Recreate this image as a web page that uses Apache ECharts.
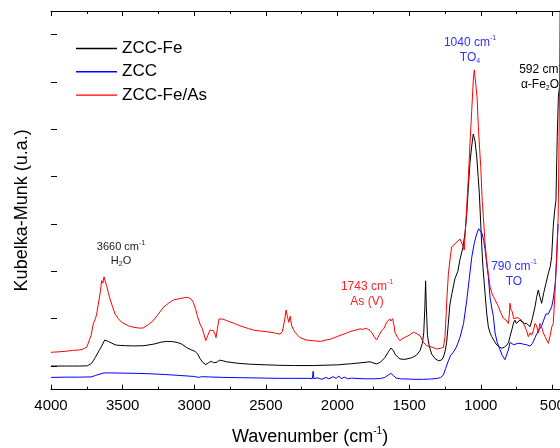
<!DOCTYPE html>
<html>
<head>
<meta charset="utf-8">
<script src="https://cdn.jsdelivr.net/npm/echarts@6/dist/echarts.min.js"></script>
<style>
html,body{margin:0;padding:0;background:#fff;}
#c{width:560px;height:448px;}
</style>
</head>
<body>
<div id="c"></div>
<script>
// [wavenumber (cm-1), Kubelka-Munk (arb.)]
var zccFe = [
[4000,1.00],[3900,1.00],[3800,1.00],[3745,1.01],[3720,1.10],[3705,1.22],[3690,1.37],[3660,1.70],[3646,1.85],[3625,2.10],[3616,2.14],[3600,2.04],[3588,2.00],[3560,1.92],[3541,1.88],[3480,1.86],[3425,1.85],[3350,1.86],[3280,1.93],[3230,2.01],[3192,2.04],[3150,2.03],[3120,2.00],[3088,1.93],[3053,1.78],[3020,1.68],[2995,1.62],[2975,1.50],[2960,1.32],[2940,1.15],[2920,1.06],[2900,1.14],[2881,1.20],[2865,1.14],[2853,1.08],[2840,1.16],[2826,1.25],[2800,1.22],[2774,1.18],[2700,1.12],[2620,1.08],[2541,1.06],[2402,1.03],[2300,1.02],[2169,1.02],[2000,1.05],[1900,1.10],[1800,1.16],[1773,1.18],[1745,1.12],[1727,1.09],[1700,1.16],[1670,1.35],[1645,1.60],[1627,1.76],[1610,1.66],[1599,1.51],[1580,1.38],[1564,1.30],[1530,1.28],[1482,1.35],[1450,1.45],[1424,1.65],[1408,1.95],[1398,2.40],[1390,3.50],[1385,4.60],[1380,3.50],[1372,2.30],[1360,1.85],[1343,1.51],[1320,1.32],[1296,1.22],[1275,1.25],[1261,1.37],[1250,1.60],[1238,2.00],[1225,2.90],[1215,3.62],[1200,4.10],[1180,4.70],[1160,5.00],[1145,5.50],[1125,6.00],[1110,6.60],[1098,7.40],[1087,8.50],[1075,9.60],[1063,10.30],[1052,10.80],[1040,10.50],[1028,9.84],[1018,9.00],[1010,8.30],[994,6.20],[985,5.20],[970,4.07],[958,3.20],[947,2.66],[935,2.40],[923,2.24],[905,2.05],[888,1.89],[870,1.80],[853,1.75],[835,1.80],[818,1.88],[806,2.00],[796,2.24],[780,2.60],[770,2.85],[761,2.94],[752,2.80],[740,2.85],[726,2.94],[710,2.85],[695,2.80],[680,2.80],[668,2.75],[656,2.66],[640,3.00],[621,3.51],[610,3.90],[598,4.21],[588,3.95],[575,3.65],[560,4.10],[545,4.49],[528,4.92],[515,5.20],[505,5.62],[494,6.89],[485,7.50],[475,8.01],[466,10.69],[458,12.40],[452,12.45],[446,13.00]
];
var zcc = [
[4000,0.52],[3900,0.53],[3800,0.53],[3720,0.54],[3690,0.60],[3658,0.66],[3630,0.71],[3600,0.71],[3500,0.70],[3400,0.69],[3300,0.67],[3200,0.64],[3100,0.60],[3000,0.56],[2970,0.52],[2960,0.48],[2950,0.55],[2900,0.54],[2800,0.52],[2700,0.51],[2600,0.50],[2500,0.49],[2402,0.48],[2300,0.48],[2200,0.48],[2175,0.47],[2170,0.78],[2165,0.47],[2140,0.50],[2110,0.44],[2080,0.52],[2060,0.46],[2030,0.55],[2010,0.48],[1990,0.58],[1975,0.47],[1950,0.53],[1930,0.46],[1900,0.49],[1850,0.47],[1800,0.46],[1750,0.46],[1700,0.47],[1670,0.52],[1645,0.62],[1627,0.69],[1610,0.60],[1590,0.49],[1560,0.46],[1500,0.45],[1471,0.44],[1400,0.44],[1351,0.45],[1300,0.48],[1280,0.52],[1261,0.62],[1245,0.90],[1226,1.22],[1210,1.45],[1192,1.58],[1170,1.80],[1145,2.21],[1120,2.80],[1098,3.76],[1080,4.70],[1063,5.59],[1045,6.20],[1028,6.58],[1015,6.80],[1005,6.86],[990,6.60],[980,6.30],[970,5.95],[958,5.30],[947,4.78],[935,3.90],[923,3.45],[912,3.10],[900,2.40],[885,2.00],[866,1.70],[850,1.45],[831,1.27],[818,1.35],[807,1.68],[796,2.00],[784,1.96],[770,1.90],[761,1.90],[745,1.95],[726,1.96],[700,1.92],[680,1.90],[656,1.84],[640,1.95],[621,2.20],[610,2.35],[590,2.55],[575,2.70],[545,3.20],[528,3.20],[505,3.50],[494,3.83],[480,4.50],[470,5.50],[460,7.00]
];
var zccFeAs = [
[4000,1.58],[3950,1.60],[3900,1.62],[3850,1.66],[3800,1.68],[3775,1.72],[3750,1.80],[3740,1.86],[3720,2.30],[3705,2.78],[3690,3.00],[3681,3.20],[3670,3.60],[3658,4.04],[3646,4.61],[3638,4.50],[3630,4.77],[3620,4.55],[3611,4.39],[3600,4.10],[3588,3.83],[3570,3.50],[3553,3.20],[3530,3.00],[3507,2.85],[3460,2.70],[3425,2.64],[3380,2.60],[3356,2.61],[3320,2.75],[3286,2.92],[3250,3.20],[3216,3.48],[3180,3.65],[3146,3.79],[3100,3.85],[3060,3.90],[3042,3.90],[3020,3.82],[3007,3.69],[2990,3.40],[2979,3.13],[2960,2.78],[2945,2.60],[2935,2.40],[2920,2.07],[2905,2.30],[2890,2.52],[2867,2.50],[2855,2.35],[2848,2.20],[2838,2.60],[2827,2.99],[2800,2.98],[2774,2.92],[2720,2.80],[2681,2.70],[2620,2.58],[2588,2.52],[2540,2.48],[2494,2.45],[2440,2.40],[2402,2.35],[2385,2.45],[2370,2.90],[2359,3.37],[2350,3.10],[2340,2.85],[2330,3.10],[2320,2.70],[2300,2.45],[2264,2.21],[2220,2.10],[2169,2.07],[2120,2.04],[2080,2.10],[2052,2.13],[2000,2.25],[1935,2.40],[1900,2.48],[1870,2.52],[1843,2.57],[1820,2.55],[1800,2.60],[1790,2.52],[1773,2.50],[1760,2.40],[1740,2.20],[1727,2.10],[1710,2.30],[1692,2.49],[1675,2.60],[1657,2.85],[1645,2.80],[1635,2.99],[1627,2.90],[1615,3.00],[1605,2.70],[1599,2.43],[1580,2.20],[1564,2.07],[1550,2.15],[1529,2.21],[1500,2.30],[1471,2.43],[1450,2.38],[1424,2.28],[1400,2.00],[1378,1.86],[1340,1.80],[1308,1.72],[1280,1.75],[1261,1.79],[1250,2.20],[1245,2.78],[1235,4.00],[1226,4.89],[1215,5.48],[1203,6.04],[1180,6.16],[1165,6.25],[1145,6.37],[1133,6.32],[1126,6.10],[1115,5.90],[1110,6.44],[1098,7.73],[1087,8.90],[1075,10.41],[1063,11.80],[1052,13.08],[1045,13.51],[1040,13.20],[1033,12.80],[1025,12.30],[1017,11.11],[1008,10.20],[1000,9.42],[990,8.00],[982,7.31],[970,6.20],[959,5.48],[947,4.90],[935,4.35],[923,4.10],[912,3.93],[900,3.80],[877,3.51],[860,3.25],[842,3.02],[825,2.95],[807,2.80],[800,3.20],[796,3.65],[790,3.40],[780,3.30],[770,3.00],[761,2.94],[745,3.05],[726,2.98],[710,2.90],[691,2.66],[680,2.50],[668,2.24],[656,2.40],[645,2.30],[633,2.49],[621,2.80],[610,2.70],[598,2.40],[587,2.80],[575,2.65],[563,2.40],[551,2.24],[540,2.10],[528,1.96],[515,2.30],[505,2.64],[494,2.80],[482,4.07],[475,5.00],[466,6.32],[460,7.20],[455,9.50],[450,13.00],[446,16.50]
];
var seriesNames = ['ZCC-Fe', 'ZCC', 'ZCC-Fe/As'];
var seriesColors = ['#000000', '#0000ff', '#ff0000'];
// annotations: [wavenumber, y, rich text, colour, font size]
var notes = [
  [3511, 5.75, '{n|3660 cm}{s|-1}\n{n|H}{b|2}{n|O}', '#1a1a1a', 11],
  [1794, 4.05, '{n|1743 cm}{s|-1}\n{n|As (V)}', '#ff2020', 12],
  [1075, 14.36, '{n|1040 cm}{s|-1}\n{n|TO}{b|4}', '#3030ff', 12],
  [768, 4.90, '{n|790 cm}{s|-1}\n{n|TO}', '#3030ff', 12],
  [573, 13.21, '{n|592 cm}{s|-1}\n{n|\u03b1-Fe}{b|2}{n|O}{b|3}', '#000000', 12]
];

var FONT = '"Liberation Sans", Arial, sans-serif';
var chart = echarts.init(document.getElementById('c'), null, {renderer: 'canvas'});

function richFor(color, fs) {
  return {
    n: {fontSize: fs, lineHeight: fs + 3, color: color, fontFamily: FONT},
    s: {fontSize: 7, lineHeight: 9, verticalAlign: 'top', color: color, fontFamily: FONT},
    b: {fontSize: 7, lineHeight: 7, verticalAlign: 'bottom', color: color, fontFamily: FONT}
  };
}

var markData = notes.map(function (a) {
  return {
    coord: [a[0], a[1]],
    symbol: 'rect', symbolSize: 0,
    label: {show: true, position: 'inside', formatter: a[2], align: 'center', rich: richFor(a[3], a[4])}
  };
});

var dataSets = [zccFe, zcc, zccFeAs];
var series = dataSets.map(function (d, i) {
  return {
    name: seriesNames[i], type: 'line', data: d, xAxisIndex: 0, yAxisIndex: 0,
    symbol: 'none', smooth: false, lineStyle: {width: 1, color: seriesColors[i]},
    itemStyle: {color: seriesColors[i]}, z: i === 2 ? 3 : 2, animation: false
  };
});
series[2].markPoint = {silent: true, animation: false, data: markData};

var axisColor = '#000';
chart.setOption({
  backgroundColor: '#fff',
  animation: false,
  textStyle: {fontFamily: FONT},
  legend: {
    orient: 'vertical', left: 76, top: 40, itemWidth: 41, itemHeight: 1.4, itemGap: 6.3,
    icon: 'rect', data: seriesNames, padding: 0,
    textStyle: {fontSize: 17, color: '#000', lineHeight: 17, fontFamily: FONT}
  },
  grid: [
    {left: 51, top: 11, width: 573, height: 378.7, containLabel: false, outerBoundsMode: 'none'},
    {left: 51, top: 34.67, width: 573, height: 331.36, containLabel: false, outerBoundsMode: 'none'}
  ],
  xAxis: [
    {
      type: 'value', gridIndex: 0, min: 0, max: 4000, interval: 500, inverse: true, position: 'bottom',
      axisLine: {show: true, lineStyle: {color: axisColor, width: 1}},
      axisTick: {show: true, inside: true, length: 5, lineStyle: {color: axisColor}},
      minorTick: {show: true, splitNumber: 2, length: 3, lineStyle: {color: axisColor}},
      splitLine: {show: false}, minorSplitLine: {show: false},
      axisLabel: {fontSize: 15, color: '#000', margin: 9, fontFamily: FONT, formatter: function (v) { return String(v); }},
      name: '{n|Wavenumber (cm}{s|-1}{n|)}', nameLocation: 'middle', nameGap: 37,
      nameTextStyle: {
        padding: [0, 55, 0, 0],
        rich: {
          n: {fontSize: 18, color: '#000', fontFamily: FONT, lineHeight: 20},
          s: {fontSize: 10, color: '#000', fontFamily: FONT, lineHeight: 11, verticalAlign: 'top'}
        }
      }
    },
    {
      type: 'value', gridIndex: 0, min: 0, max: 4000, interval: 500, inverse: true, position: 'top',
      axisLine: {show: true, lineStyle: {color: axisColor, width: 1}},
      axisTick: {show: true, inside: true, length: 5, lineStyle: {color: axisColor}},
      minorTick: {show: true, splitNumber: 2, length: 3, lineStyle: {color: axisColor}},
      splitLine: {show: false}, axisLabel: {show: false}
    },
    {type: 'value', gridIndex: 1, min: 0, max: 4000, show: false}
  ],
  yAxis: [
    {
      type: 'value', gridIndex: 0, min: 0, max: 16, interval: 1, position: 'left',
      axisLine: {show: true, lineStyle: {color: axisColor, width: 1}},
      axisTick: {show: true, inside: true, length: 3, lineStyle: {color: axisColor}},
      splitLine: {show: false}, axisLabel: {show: false},
      name: 'Kubelka-Munk (u.a.)', nameLocation: 'middle', nameGap: 20,
      nameTextStyle: {fontSize: 18, color: '#000', fontFamily: FONT, padding: [0, 20, 0, 0]}
    },
    {
      type: 'value', gridIndex: 1, min: 0, max: 14, interval: 2, position: 'left',
      axisLine: {show: false},
      axisTick: {show: true, inside: true, length: 6, lineStyle: {color: axisColor}},
      splitLine: {show: false}, axisLabel: {show: false}
    }
  ],
  series: series
});
</script>
</body>
</html>
